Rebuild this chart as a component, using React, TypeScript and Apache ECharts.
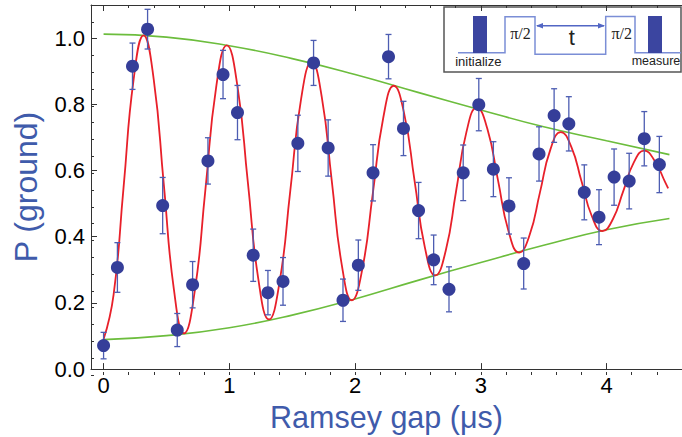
import React, { useEffect, useRef } from "react";
import * as echarts from "echarts";

// Measured data (Ramsey gap in µs, ground-state probability, ± error)
const gapUs = [0, 0.11, 0.23, 0.35, 0.47, 0.586, 0.708, 0.83, 0.95, 1.065, 1.19, 1.307, 1.427, 1.545, 1.67, 1.786, 1.904, 2.026, 2.143, 2.266, 2.385, 2.505, 2.625, 2.747, 2.86, 2.984, 3.1, 3.224, 3.341, 3.463, 3.583, 3.7, 3.823, 3.94, 4.06, 4.18, 4.3, 4.42];
const pGround = [0.071, 0.307, 0.915, 1.027, 0.494, 0.118, 0.255, 0.629, 0.89, 0.775, 0.344, 0.231, 0.265, 0.682, 0.925, 0.668, 0.208, 0.314, 0.593, 0.944, 0.727, 0.479, 0.33, 0.241, 0.593, 0.799, 0.604, 0.493, 0.319, 0.65, 0.766, 0.741, 0.534, 0.459, 0.58, 0.568, 0.696, 0.618];
const pError = [0.04, 0.075, 0.07, 0.06, 0.085, 0.05, 0.07, 0.07, 0.073, 0.082, 0.079, 0.067, 0.072, 0.085, 0.068, 0.085, 0.064, 0.076, 0.085, 0.067, 0.082, 0.085, 0.075, 0.068, 0.084, 0.079, 0.083, 0.085, 0.077, 0.082, 0.081, 0.082, 0.083, 0.083, 0.085, 0.084, 0.082, 0.085];

// Fit curve (red)
const fitT = [0, 0.0795, 0.159, 0.2385, 0.318, 0.3985, 0.479, 0.5595, 0.64, 0.725, 0.81, 0.895, 0.98, 1.064, 1.1475, 1.231, 1.315, 1.4, 1.485, 1.57, 1.655, 1.735, 1.815, 1.895, 1.975, 2.058, 2.1415, 2.225, 2.308, 2.3905, 2.473, 2.5555, 2.638, 2.7205, 2.803, 2.8855, 2.968, 3.052, 3.1365, 3.221, 3.305, 3.388, 3.4705, 3.553, 3.636, 3.719, 3.8015, 3.884, 3.967, 4.05, 4.1335, 4.217, 4.3, 4.383, 4.466, 4.49];
const fitP = [0.09, 0.2245, 0.549, 0.8735, 1.008, 0.876, 0.558, 0.24, 0.108, 0.2355, 0.543, 0.8505, 0.978, 0.8567, 0.564, 0.2713, 0.15, 0.264, 0.539, 0.814, 0.928, 0.8225, 0.568, 0.3135, 0.208, 0.303, 0.532, 0.761, 0.856, 0.772, 0.5695, 0.367, 0.283, 0.357, 0.5365, 0.716, 0.79, 0.726, 0.571, 0.416, 0.352, 0.405, 0.534, 0.663, 0.716, 0.672, 0.5665, 0.461, 0.417, 0.4526, 0.5385, 0.6244, 0.66, 0.629, 0.565, 0.546];

// Decay envelopes (green)
const envT = [0, 0.5, 1.0, 1.5, 2.0, 2.5, 3.0, 3.5, 4.0, 4.5];
const upperP = [1.012, 1.003, 0.977, 0.938, 0.89, 0.836, 0.783, 0.732, 0.69, 0.648];
const lowerP = [0.089, 0.101, 0.125, 0.163, 0.212, 0.268, 0.322, 0.374, 0.421, 0.455];

// Ticks
const xMajor = [0, 1, 2, 3, 4];
const xMinor = [0, 0.2, 0.4, 0.6, 0.8, 1, 1.2, 1.4, 1.6, 1.8, 2, 2.2, 2.4, 2.6, 2.8, 3, 3.2, 3.4, 3.6, 3.8, 4, 4.2, 4.4, 4.6];
const yMajor = [0, 0.2, 0.4, 0.6, 0.8, 1.0];
const yMinor = [0, 0.05, 0.1, 0.15, 0.2, 0.25, 0.3, 0.35, 0.4, 0.45, 0.5, 0.55, 0.6, 0.65, 0.7, 0.75, 0.8, 0.85, 0.9, 0.95, 1.0, 1.05];

const AXIS = "#333";
const TITLE = "#3f5bab";
const DOT = "#353e99";
const BAR = "#4d5db2";
const FONT = "'Liberation Sans', Arial, sans-serif";

export default function App() {
  const ref = useRef<HTMLDivElement>(null);
  useEffect(() => {
    if (!ref.current) return;
    const chart = echarts.init(ref.current, undefined, { renderer: "svg" });
    const gridBox = { left: 91, top: 5, width: 602, height: 370 };
    const xBase = { type: "value", min: -0.1, max: 4.6, splitLine: { show: false } };
    const yBase = { type: "value", min: 0, max: 1.1, splitLine: { show: false } };
    const errData = gapUs.map((x, i) => [x, pGround[i] - pError[i], pGround[i] + pError[i]]);

    chart.setOption({
      animation: false,
      backgroundColor: "#fff",
      grid: [
        { ...gridBox, containLabel: false },
        { ...gridBox, containLabel: false },
      ],
      xAxis: [
        {
          ...xBase, gridIndex: 0, position: "bottom",
          axisLine: { show: true, onZero: false, lineStyle: { color: AXIS, width: 1 } },
          axisTick: { show: true, inside: true, length: 6, customValues: xMajor, lineStyle: { color: AXIS } },
          axisLabel: { show: true, customValues: xMajor, fontSize: 22, color: "#000", fontFamily: FONT, margin: 5 },
          name: "Ramsey gap (\u03bcs)", nameLocation: "middle", nameGap: 27,
          nameTextStyle: { fontSize: 30.5, color: TITLE, fontFamily: FONT },
        },
        {
          ...xBase, gridIndex: 0, position: "top",
          axisLine: { show: true, onZero: false, lineStyle: { color: AXIS, width: 1 } },
          axisTick: { show: true, inside: true, length: 6, customValues: xMajor, lineStyle: { color: AXIS } },
          axisLabel: { show: false },
        },
        {
          ...xBase, gridIndex: 1, position: "bottom",
          axisLine: { show: false, onZero: false },
          axisTick: { show: true, inside: true, length: 3, customValues: xMinor, lineStyle: { color: AXIS } },
          axisLabel: { show: false },
        },
        {
          ...xBase, gridIndex: 1, position: "top",
          axisLine: { show: false, onZero: false },
          axisTick: { show: true, inside: true, length: 3, customValues: xMinor, lineStyle: { color: AXIS } },
          axisLabel: { show: false },
        },
      ],
      yAxis: [
        {
          ...yBase, gridIndex: 0, position: "left",
          axisLine: { show: true, onZero: false, lineStyle: { color: AXIS, width: 1 } },
          axisTick: { show: true, inside: true, length: 6, customValues: yMajor, lineStyle: { color: AXIS } },
          axisLabel: {
            show: true, customValues: yMajor, fontSize: 22, color: "#000", fontFamily: FONT, margin: 6,
            formatter: (v: number) => v.toFixed(1),
          },
          name: "P (ground)", nameLocation: "middle", nameGap: 49,
          nameTextStyle: { fontSize: 32, color: TITLE, fontFamily: FONT },
        },
        {
          ...yBase, gridIndex: 1, position: "left",
          axisLine: { show: false, onZero: false },
          axisTick: { show: true, inside: true, length: 3, customValues: yMinor, lineStyle: { color: AXIS } },
          axisLabel: { show: false },
        },
      ],
      series: [
        {
          type: "line", name: "upper", xAxisIndex: 0, yAxisIndex: 0,
          data: envT.map((t, i) => [t, upperP[i]]),
          smooth: 0.5, showSymbol: false, symbol: "none",
          lineStyle: { color: "#6cbd3d", width: 1.6 }, z: 2,
        },
        {
          type: "line", name: "lower", xAxisIndex: 0, yAxisIndex: 0,
          data: envT.map((t, i) => [t, lowerP[i]]),
          smooth: 0.5, showSymbol: false, symbol: "none",
          lineStyle: { color: "#6cbd3d", width: 1.6 }, z: 2,
        },
        {
          type: "line", name: "fit", xAxisIndex: 0, yAxisIndex: 0,
          data: fitT.map((t, i) => [t, fitP[i]]),
          smooth: 0.5, showSymbol: false, symbol: "none",
          lineStyle: { color: "#e8202a", width: 1.8 }, z: 3,
        },
        {
          type: "custom", name: "err", xAxisIndex: 0, yAxisIndex: 0,
          data: errData,
          encode: { x: 0, y: [1, 2] },
          z: 4,
          renderItem: (params: any, api: any) => {
            const x = api.value(0);
            const top = api.coord([x, api.value(2)]);
            const bot = api.coord([x, api.value(1)]);
            const w = 3;
            const style = { stroke: BAR, lineWidth: 1.3 };
            return {
              type: "group",
              children: [
                { type: "line", shape: { x1: top[0], y1: top[1], x2: bot[0], y2: bot[1] }, style },
                { type: "line", shape: { x1: top[0] - w, y1: top[1], x2: top[0] + w, y2: top[1] }, style },
                { type: "line", shape: { x1: bot[0] - w, y1: bot[1], x2: bot[0] + w, y2: bot[1] }, style },
              ],
            };
          },
        },
        {
          type: "scatter", name: "data", xAxisIndex: 0, yAxisIndex: 0,
          data: gapUs.map((x, i) => [x, pGround[i]]),
          symbol: "circle", symbolSize: 13,
          itemStyle: { color: DOT, opacity: 1 }, z: 5,
        },
      ],
      graphic: [
        {
          type: "group", z: 100,
          children: [
            { type: "rect", shape: { x: 444, y: 7, width: 237, height: 65 }, style: { fill: "#fff", stroke: "#555", lineWidth: 1.5 } },
            {
              type: "polyline",
              shape: { points: [[458, 52.7], [505, 52.7], [505, 16.7], [535, 16.7], [535, 54.3], [605.7, 54.3], [605.7, 16.5], [635, 16.5], [635, 52.7], [681, 52.7]] },
              style: { fill: "none", stroke: "#7b8ed6", lineWidth: 1.5 },
            },
            { type: "rect", shape: { x: 473, y: 16, width: 14, height: 37 }, style: { fill: "#3b45a0" } },
            { type: "rect", shape: { x: 648, y: 16, width: 14, height: 37 }, style: { fill: "#3b45a0" } },
            { type: "line", shape: { x1: 537, y1: 25.7, x2: 604, y2: 25.7 }, style: { stroke: "#5266c4", lineWidth: 1.5 } },
            { type: "polygon", shape: { points: [[536, 25.7], [543, 23], [543, 28.4]] }, style: { fill: "#5266c4" } },
            { type: "polygon", shape: { points: [[605, 25.7], [598, 23], [598, 28.4]] }, style: { fill: "#5266c4" } },
            { type: "text", x: 520.5, y: 33, style: { text: "\u03c0/2", fontSize: 16, fontFamily: "'Liberation Serif', serif", fill: "#222", align: "center", verticalAlign: "middle" } },
            { type: "text", x: 621.7, y: 33, style: { text: "\u03c0/2", fontSize: 16, fontFamily: "'Liberation Serif', serif", fill: "#222", align: "center", verticalAlign: "middle" } },
            { type: "text", x: 571.7, y: 37.5, style: { text: "t", fontSize: 22, fontFamily: FONT, fill: "#222", align: "center", verticalAlign: "middle" } },
            { type: "text", x: 478.3, y: 61.5, style: { text: "initialize", fontSize: 13, fontFamily: FONT, fill: "#222", align: "center", verticalAlign: "middle" } },
            { type: "text", x: 656, y: 61, style: { text: "measure", fontSize: 12.5, fontFamily: FONT, fill: "#222", align: "center", verticalAlign: "middle" } },
          ],
        },
      ],
    });
    return () => chart.dispose();
  }, []);
  return <div ref={ref} style={{ position: "absolute", left: 0, top: 0, width: 682, height: 437 }} />;
}
